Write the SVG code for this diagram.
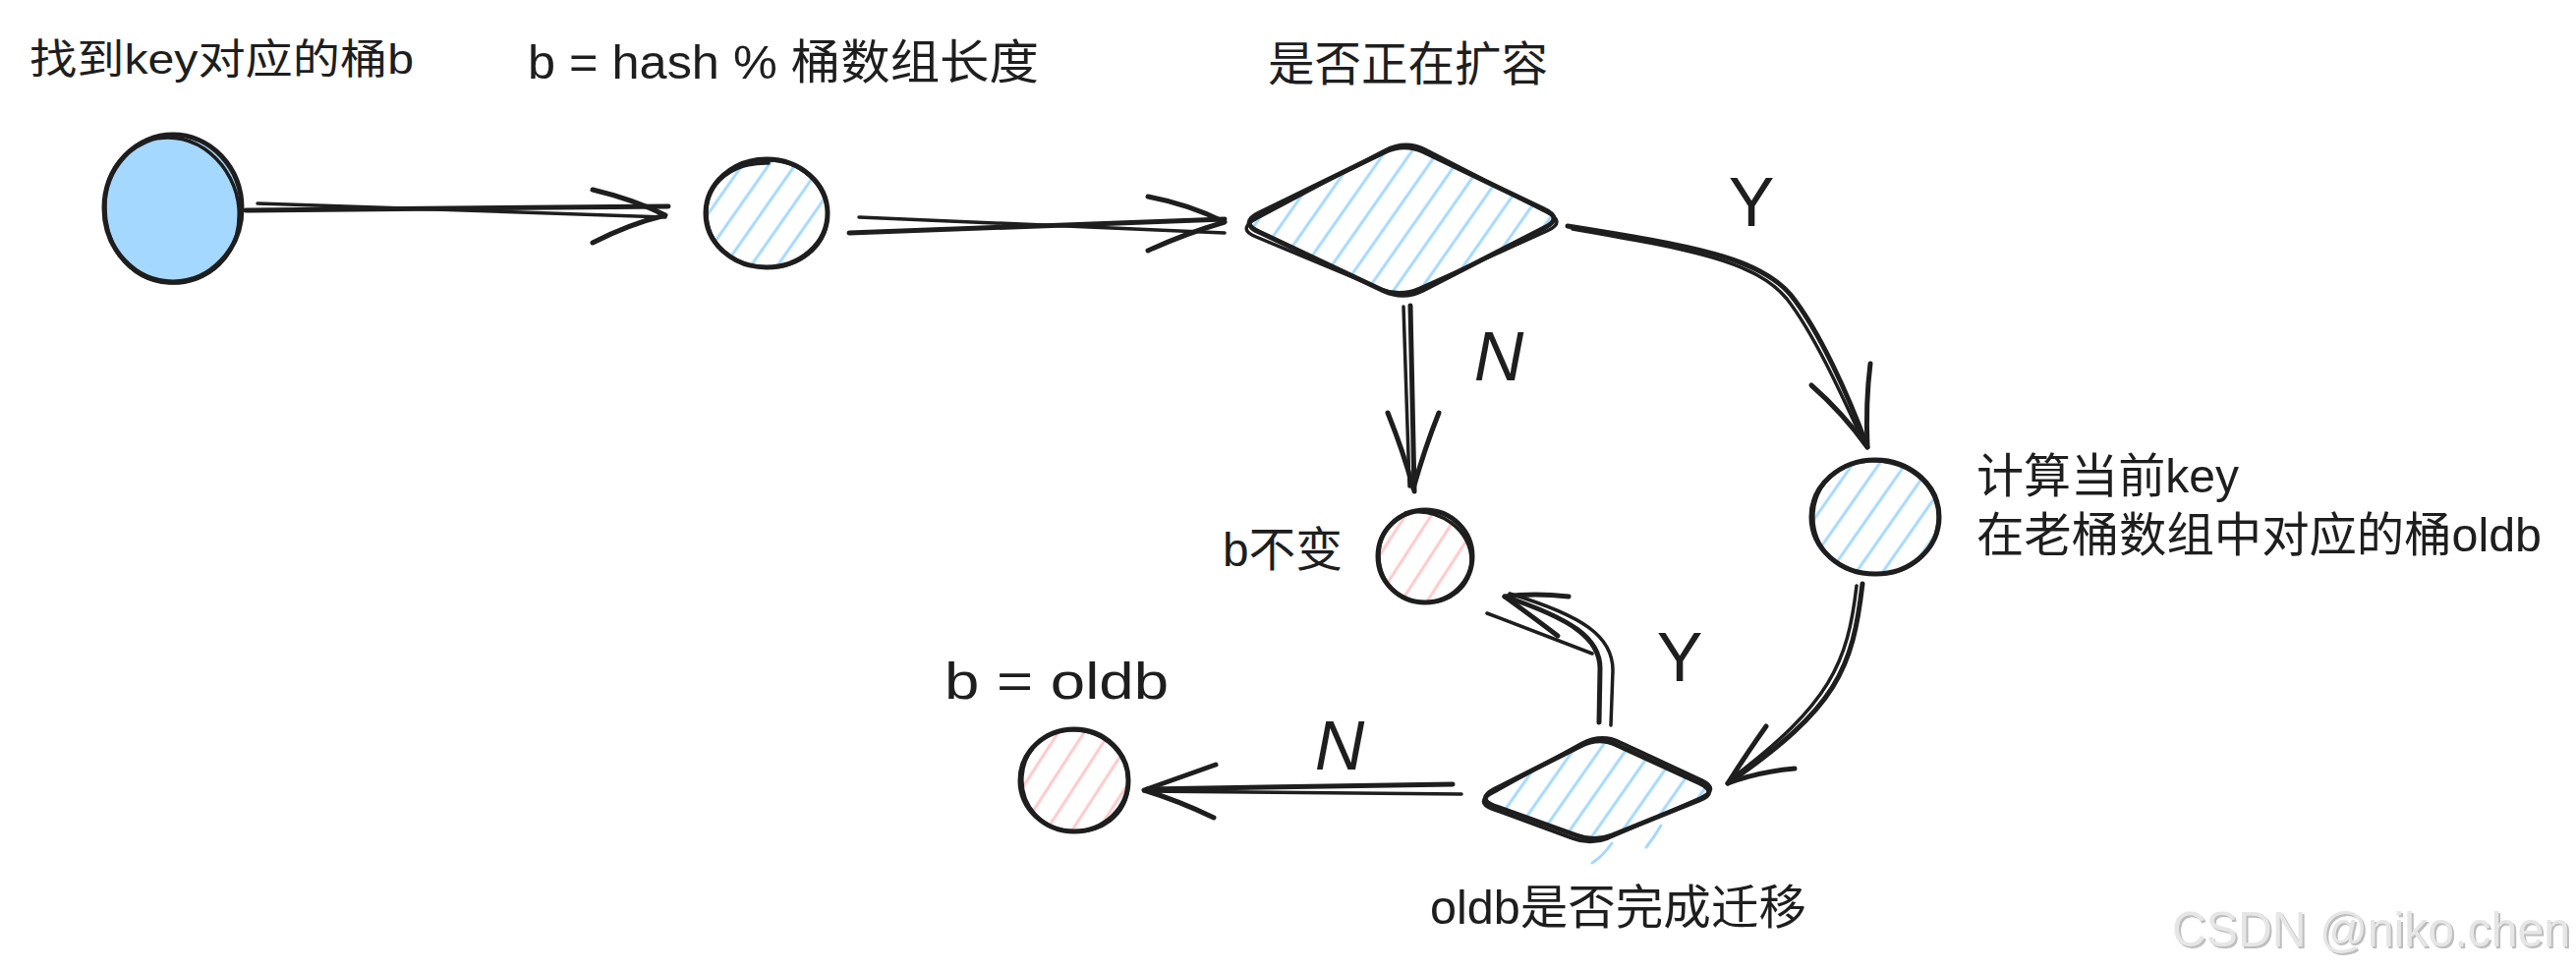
<svg xmlns="http://www.w3.org/2000/svg" width="2621" height="988" viewBox="0 0 2621 988">
<style>
.ln{fill:none;stroke:#1e1e1e;stroke-width:5;stroke-linecap:round;stroke-linejoin:round}
.ln2{fill:none;stroke:#1e1e1e;stroke-width:3.5;stroke-linecap:round;stroke-linejoin:round}
.t{font-family:"Liberation Sans","Noto Sans CJK SC",sans-serif;fill:#1e1e1e}
.lbl{font-family:"Liberation Sans","Noto Sans CJK SC",sans-serif;fill:#1e1e1e;font-size:70px;text-anchor:middle}
</style>
<defs>
<pattern id="hb" patternUnits="userSpaceOnUse" width="22" height="22" patternTransform="rotate(35)">
<line x1="11" y1="-5" x2="11" y2="27" stroke="#a5d8ff" stroke-width="3"/>
</pattern>
<pattern id="hr" patternUnits="userSpaceOnUse" width="22" height="22" patternTransform="rotate(33)">
<line x1="11" y1="-5" x2="11" y2="27" stroke="#ffc9c9" stroke-width="3"/>
</pattern>
</defs>
<rect width="2621" height="988" fill="#ffffff"/>

<g id="node-start">
<ellipse cx="176" cy="212" rx="70" ry="75" class="ln" style="fill:#a5d8ff"/>
<path class="ln2" d="M150,143 C200,128 240,170 243,212 C246,262 210,290 172,288 C128,285 105,245 107,205 C109,168 130,150 160,140"/>
<text class="t" x="30" y="75" font-size="42" textLength="391" lengthAdjust="spacingAndGlyphs">找到key对应的桶b</text>
</g>

<g id="node-hash">
<ellipse cx="780" cy="217" rx="62" ry="55" class="ln" style="fill:url(#hb)"/>
<path class="ln2" d="M775,163 C815,160 843,190 842,220 C841,252 812,274 778,272 C744,270 718,248 719,214 C720,186 745,165 782,166"/>
<text class="t" x="537" y="80" font-size="48" textLength="520" lengthAdjust="spacingAndGlyphs">b = hash % 桶数组长度</text>
</g>

<g id="node-resizing">
<path class="ln" style="fill:url(#hb)" d="M1281,217 L1408,155 Q1428,145 1448,154 L1571,213 Q1591,222 1571,232 L1448,295 Q1428,305 1408,296 L1281,236 Q1261,227 1281,217 Z"/>
<path class="ln2" d="M1279,222 L1409,153 Q1430,142 1450,152 L1574,216 Q1594,226 1574,235 L1445,293 Q1425,302 1405,294 L1278,241 Q1258,233 1279,222 Z"/>
<text class="t" x="1290" y="82" font-size="48" textLength="285" lengthAdjust="spacingAndGlyphs">是否正在扩容</text>
</g>

<g id="node-oldbucket">
<ellipse cx="1908" cy="526" rx="65" ry="58" class="ln" style="fill:url(#hb)"/>
<path class="ln2" d="M1890,470 C1940,462 1975,495 1972,530 C1969,565 1940,586 1905,584 C1870,582 1843,558 1845,522 C1847,492 1870,472 1900,469"/>
<text class="t" x="2011" y="501" font-size="48" textLength="267" lengthAdjust="spacingAndGlyphs">计算当前key</text>
<text class="t" x="2011" y="561" font-size="48" textLength="575" lengthAdjust="spacingAndGlyphs">在老桶数组中对应的桶oldb</text>
</g>

<g id="node-keep">
<ellipse cx="1450" cy="566" rx="48" ry="47" class="ln" style="fill:url(#hr)"/>
<path class="ln2" d="M1430,522 C1465,515 1497,540 1497,570 C1497,598 1475,614 1448,613 C1420,612 1402,590 1403,562 C1404,540 1420,523 1445,520"/>
<text class="t" x="1244" y="576" font-size="48" textLength="122" lengthAdjust="spacingAndGlyphs">b不变</text>
</g>

<g id="node-migrated">
<path class="ln" style="fill:url(#hb)" d="M1521,803 L1608,759 Q1627,749 1645,758 L1730,797 Q1748,806 1729,814 L1640,850 Q1622,857 1604,850 L1520,820 Q1502,813 1521,803 Z"/>
<path class="ln2" d="M1520,806 L1610,756 Q1630,746 1648,755 L1732,794 Q1750,803 1730,812 L1636,853 Q1618,860 1600,853 L1518,823 Q1500,816 1520,806 Z"/>
<path d="M1640,858 Q1630,872 1620,878 M1690,840 Q1683,852 1675,862" fill="none" stroke="#a5d8ff" stroke-width="3" stroke-linecap="round"/>
<text class="t" x="1455" y="940" font-size="48" textLength="383" lengthAdjust="spacingAndGlyphs">oldb是否完成迁移</text>
</g>

<g id="node-oldb">
<ellipse cx="1093" cy="794" rx="55" ry="52" class="ln" style="fill:url(#hr)"/>
<path class="ln2" d="M1085,743 C1125,740 1150,770 1148,800 C1146,830 1120,848 1090,846 C1060,844 1038,820 1040,790 C1042,762 1062,744 1092,742"/>
<text class="t" x="961" y="711" font-size="52" textLength="228" lengthAdjust="spacingAndGlyphs">b = oldb</text>
</g>

<g id="connectors">
<path class="ln" d="M250,214 L680,210"/>
<path class="ln2" d="M262,207 L677,221"/>
<path class="ln" d="M603,193 Q645,203 677,219 Q640,228 603,247"/>
<path class="ln" d="M864,237 L1246,223"/>
<path class="ln2" d="M874,221 L1246,237"/>
<path class="ln" d="M1168,200 Q1210,208 1246,226 Q1205,238 1168,255"/>
<path class="ln" d="M1435,311 L1439,500"/>
<path class="ln2" d="M1428,312 L1434,495"/>
<path class="ln" d="M1412,420 Q1428,460 1438,497 Q1450,455 1464,420"/>
<text class="lbl" x="1525" y="387" font-style="italic">N</text>
<path class="ln" d="M1595,230 C1720,250 1790,262 1822,300 C1850,335 1880,400 1900,455"/>
<path class="ln2" d="M1600,233 C1722,254 1786,266 1818,304 C1846,340 1874,402 1897,452"/>
<path class="ln" d="M1843,392 Q1875,420 1900,455 Q1898,410 1903,370"/>
<text class="lbl" x="1782" y="230">Y</text>
<path class="ln" d="M1895,594 C1885,680 1870,720 1758,797"/>
<path class="ln2" d="M1889,596 C1880,675 1862,716 1762,792"/>
<path class="ln" d="M1797,739 Q1775,770 1758,797 Q1790,785 1826,782"/>
<path class="ln" d="M1627,735 L1628,680 C1628,650 1600,630 1531,607"/>
<path class="ln2" d="M1639,738 L1641,682 C1641,648 1612,627 1536,604"/>
<path class="ln" d="M1596,607 Q1560,603 1531,607 Q1560,628 1585,647"/>
<path class="ln2" d="M1513,624 L1620,665"/>
<text class="lbl" x="1709" y="693">Y</text>
<path class="ln" d="M1478,798 L1167,803"/>
<path class="ln2" d="M1487,808 L1164,805"/>
<path class="ln" d="M1237,778 Q1198,792 1164,804 Q1200,815 1235,832"/>
<text class="lbl" x="1363" y="783" font-style="italic">N</text>
</g>

<g id="watermark">
<text x="2212" y="965" font-family="Liberation Sans, sans-serif" font-size="50" fill="#bdbdbd" textLength="405" lengthAdjust="spacingAndGlyphs">CSDN @niko.chen</text>
<text x="2210" y="963" font-family="Liberation Sans, sans-serif" font-size="50" fill="#e6e6e6" textLength="405" lengthAdjust="spacingAndGlyphs">CSDN @niko.chen</text>
</g>
</svg>
